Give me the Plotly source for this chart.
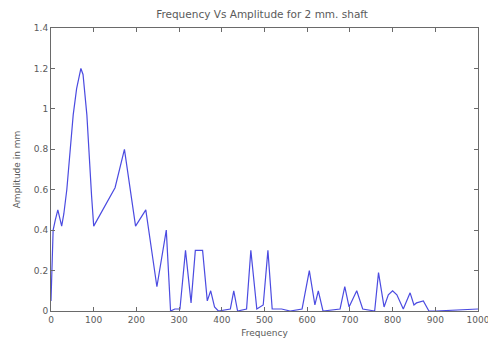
import plotly.graph_objects as go

# Frequency response of the 2 mm shaft
freq = [0, 2, 5, 10, 16, 25, 30, 37, 45, 52, 60, 70, 75, 84, 95, 100,
        150, 172, 198, 222, 248, 270, 280, 290, 302, 315, 328, 338, 355,
        366, 374, 383, 392, 420, 428, 437, 458, 468, 482, 490, 497, 508,
        518, 540, 560, 588, 605, 618, 626, 637, 677, 688, 698, 716, 730,
        758, 767, 780, 790, 800, 810, 825, 841, 850, 856, 872, 885, 900,
        950, 1000]
amp = [0.05, 0.2, 0.4, 0.45, 0.5, 0.42, 0.48, 0.6, 0.8, 0.97, 1.1, 1.2,
       1.17, 0.97, 0.57, 0.42, 0.61, 0.8, 0.42, 0.5, 0.12, 0.4, 0.0, 0.01,
       0.01, 0.3, 0.04, 0.3, 0.3, 0.05, 0.1, 0.02, 0.0, 0.01, 0.1, 0.0,
       0.01, 0.3, 0.01, 0.02, 0.03, 0.3, 0.01, 0.01, 0.0, 0.01, 0.2, 0.03,
       0.1, 0.0, 0.01, 0.12, 0.02, 0.1, 0.01, 0.0, 0.19, 0.02, 0.08, 0.1,
       0.08, 0.01, 0.09, 0.03, 0.04, 0.05, 0.0, 0.0, 0.005, 0.01]

x_ticks = [0, 100, 200, 300, 400, 500, 600, 700, 800, 900, 1000]
y_ticks = [0, 0.2, 0.4, 0.6, 0.8, 1, 1.2, 1.4]
y_tick_text = ["0", "0.2", "0.4", "0.6", "0.8", "1", "1.2", "1.4"]

text_color = "#5a5a5a"
axis_color = "#6a6a6a"
font_family = "DejaVu Sans, Verdana, sans-serif"

fig = go.Figure(go.Scatter(
    x=freq, y=amp, mode="lines",
    line=dict(color="rgb(75,75,225)", width=1.2),
    showlegend=False,
))

axis_common = dict(
    showgrid=False, zeroline=False, showline=True, linecolor=axis_color,
    linewidth=1, mirror="ticks", ticks="inside", ticklen=4,
    tickcolor=axis_color, tickfont=dict(size=9, color=text_color),
    ticklabeloverflow="allow", automargin=False,
)

fig.update_layout(
    width=488, height=341,
    margin=dict(l=51, r=10, t=28, b=30),
    paper_bgcolor="white", plot_bgcolor="white",
    font=dict(family=font_family, size=9, color=text_color),
    title=dict(text="Frequency Vs Amplitude for 2 mm. shaft", x=0.537, xanchor="center",
               y=0.959, yanchor="middle", font=dict(size=10.5, color=text_color)),
    xaxis=dict(range=[0, 1000], tickvals=x_ticks,
               title=dict(text="Frequency", font=dict(size=9, color=text_color), standoff=5),
               **axis_common),
    yaxis=dict(range=[0, 1.4], tickvals=y_ticks, ticktext=y_tick_text,
               title=dict(text="Amplitude in mm", font=dict(size=9, color=text_color), standoff=11),
               **axis_common),
)

fig.write_html("out.html")
